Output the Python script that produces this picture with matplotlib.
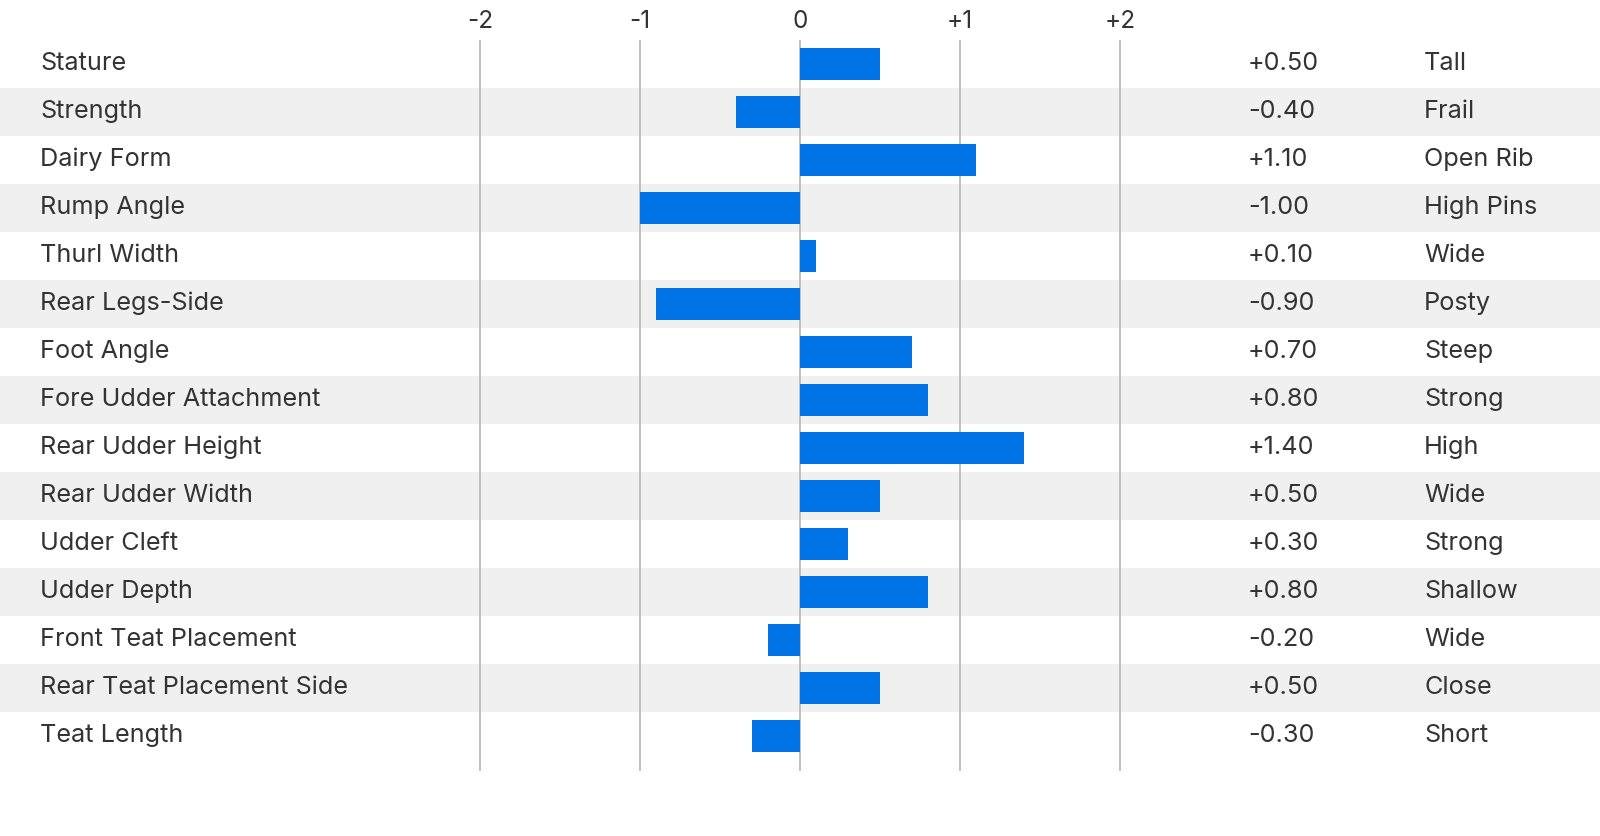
import matplotlib
matplotlib.use("Agg")
import matplotlib.pyplot as plt

traits = ["Stature", "Strength", "Dairy Form", "Rump Angle", "Thurl Width",
          "Rear Legs-Side", "Foot Angle", "Fore Udder Attachment", "Rear Udder Height",
          "Rear Udder Width", "Udder Cleft", "Udder Depth", "Front Teat Placement",
          "Rear Teat Placement Side", "Teat Length"]
values = [0.50, -0.40, 1.10, -1.00, 0.10, -0.90, 0.70, 0.80, 1.40,
          0.50, 0.30, 0.80, -0.20, 0.50, -0.30]
descriptors = ["Tall", "Frail", "Open Rib", "High Pins", "Wide", "Posty", "Steep",
               "Strong", "High", "Wide", "Strong", "Shallow", "Wide", "Close", "Short"]
ticks = [-2, -1, 0, 1, 2]
tick_labels = ["-2", "-1", "0", "+1", "+2"]

plt.rcParams['font.family'] = ['Inter', 'DejaVu Sans']
TXT = "#333333"
BAR = "#0073E6"
BAND = "#F0F0F0"
GRID = "#BBBBBB"

W, H = 1600, 836
fig = plt.figure(figsize=(W / 100, H / 100), dpi=100)
ax = fig.add_axes([0, 0, 1, 1])
# pixel mapping: x_data = (px - 800)/160, y_data = (py - 64)/48
ax.set_xlim((0 - 800) / 160, (W - 800) / 160)
ax.set_ylim((H - 64) / 48, (0 - 64) / 48)
ax.axis("off")

n = len(traits)
for i in range(n):
    if i % 2 == 1:
        ax.axhspan(i - 0.5, i + 0.5, color=BAND, lw=0, zorder=0)

ax.vlines(ticks, -0.5, (771 - 64) / 48, color=GRID, lw=1.3, zorder=1)
for t, lab in zip(ticks, tick_labels):
    ax.text(t, (22 - 64) / 48, lab, ha="center", va="center", fontsize=17.5, color=TXT)

ax.barh(range(n), values, height=32 / 48, color=BAR, zorder=2)

fs = 18.2
for i, (name, v, d) in enumerate(zip(traits, values, descriptors)):
    y = i - 0.01
    ax.text((40 - 800) / 160, y, name, ha="left", va="center", fontsize=fs, color=TXT)
    ax.text((1248 - 800) / 160, y, f"{v:+.2f}", ha="left", va="center", fontsize=fs, color=TXT)
    ax.text((1424 - 800) / 160, y, d, ha="left", va="center", fontsize=fs, color=TXT)

fig.savefig("out.png", dpi=100)
